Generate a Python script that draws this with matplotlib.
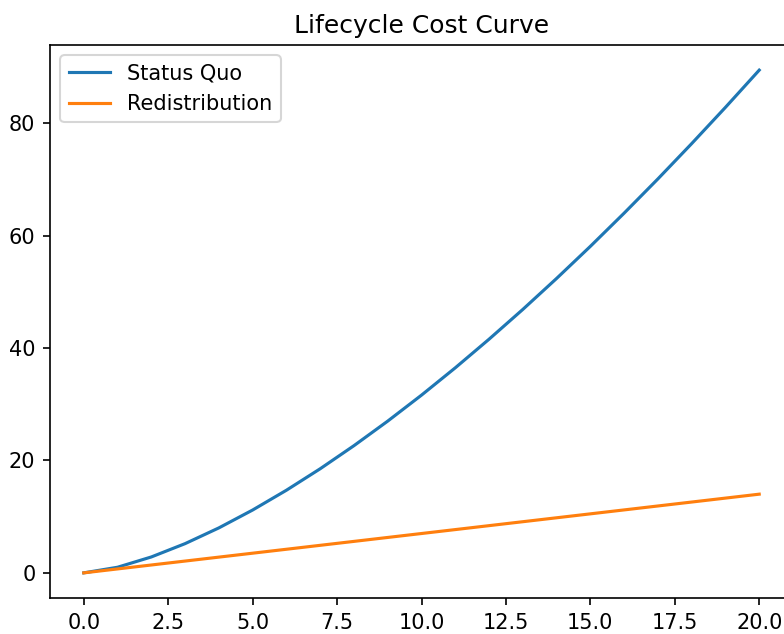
import matplotlib
matplotlib.use("Agg")
import matplotlib.pyplot as plt

years = list(range(0, 21))
status_quo = [0.0, 1.0, 2.83, 5.20, 8.0, 11.18, 14.70, 18.52, 22.63, 27.0,
              31.62, 36.48, 41.57, 46.87, 52.38, 58.09, 64.0, 70.09, 76.37, 82.82, 89.44]
redistribution = [0.0, 0.7, 1.4, 2.1, 2.8, 3.5, 4.2, 4.9, 5.6, 6.3,
                  7.0, 7.7, 8.4, 9.1, 9.8, 10.5, 11.2, 11.9, 12.6, 13.3, 14.0]

dpi = 150
fig = plt.figure(figsize=(784 / dpi, 634 / dpi), dpi=dpi)
W, H = 784, 634
left, right, top, bottom = 50, 793, 45, 598
ax = fig.add_axes([left / W, (H - bottom) / H, (right - left) / W, (bottom - top) / H])
ax.plot(years, status_quo, label="Status Quo")
ax.plot(years, redistribution, label="Redistribution")
ax.set_title("Lifecycle Cost Curve")
ax.legend(loc="upper left")
fig.savefig("out.png", dpi=dpi)
